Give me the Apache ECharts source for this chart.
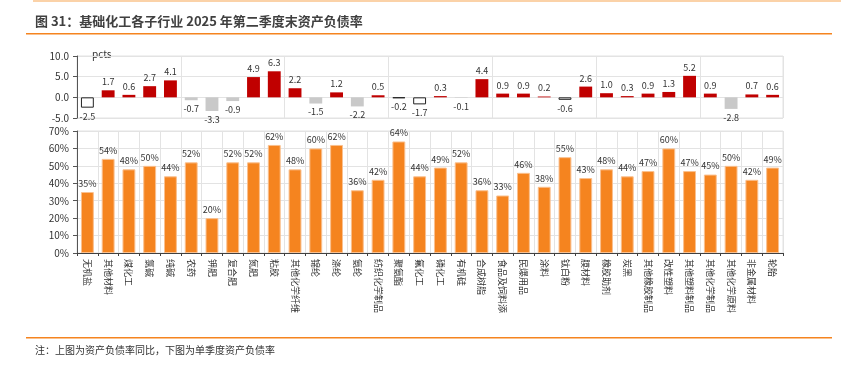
<!DOCTYPE html>
<html><head><meta charset="utf-8">
<script src="https://cdn.jsdelivr.net/npm/echarts@6/dist/echarts.min.js"></script>
<style>html,body{margin:0;padding:0;background:#fff}#c{width:841px;height:366px}</style>
</head><body><div id="c"></div>
<script>
var categories = ['无机盐','其他材料','煤化工','氯碱','纯碱','农药','钾肥','复合肥','氮肥','粘胶','其他化学纤维','锦纶','涤纶','氨纶','纺织化学制品','聚氨酯','氟化工','磷化工','有机硅','合成树脂','食品及饲料添','民爆用品','涂料','钛白粉','膜材料','橡胶助剂','炭黑','其他橡胶制品','改性塑料','其他塑料制品','其他化学制品','其他化学原料','非金属材料','轮胎'];
var yoyChange = [-2.5,1.7,0.6,2.7,4.1,-0.7,-3.3,-0.9,4.9,6.3,2.2,-1.5,1.2,-2.2,0.5,-0.2,-1.7,0.3,-0.1,4.4,0.9,0.9,0.2,-0.6,2.6,1.0,0.3,0.9,1.3,5.2,0.9,-2.8,0.7,0.6];
var debtRatio = [35,54,48,50,44,52,20,52,52,62,48,60,62,36,42,64,44,49,52,36,33,46,38,55,43,48,44,47,60,47,45,50,42,49];
var topTicks = [-5,0,5,10];
var bottomTicks = [0,10,20,30,40,50,60,70];
var outlinedCats = ['无机盐','聚氨酯','氟化工','钛白粉'];

var chart = echarts.init(document.getElementById('c'));
var FONT = '"Noto Sans CJK SC","Noto Sans",sans-serif';
var topData = yoyChange.map(function(v,i){
  var st;
  if (outlinedCats.indexOf(categories[i]) >= 0) st = {color:'#ffffff', borderColor:'#222', borderWidth:1};
  else if (v >= 0) st = {color:'#C00000'};
  else st = {color:'#C9C9C9'};
  return {value:v, itemStyle:st, label:{position: v>=0 ? 'top' : 'bottom'}};
});
var lineX = {show:true, lineStyle:{color:'#E3E3E3', width:1}};
chart.setOption({
  animation:false,
  textStyle:{fontFamily:FONT},
  grid:[
    {left:77, right:58, top:56, height:62, show:true, borderColor:'#E3E3E3', borderWidth:1},
    {left:77, right:58, top:131, height:122, show:true, borderColor:'#E3E3E3', borderWidth:1}
  ],
  xAxis:[
    {type:'category', gridIndex:0, data:categories, axisLabel:{show:false}, axisTick:{show:false},
     axisLine:{show:false}, splitLine:lineX},
    {type:'category', gridIndex:1, data:categories,
     axisLine:{show:true, lineStyle:{color:'#404040', width:1}},
     axisTick:{show:true, length:3, lineStyle:{color:'#404040'}},
     splitLine:lineX,
     axisLabel:{interval:0, rotate:-90, fontSize:9, color:'#333', margin:6, fontFamily:FONT}}
  ],
  yAxis:[
    {type:'value', gridIndex:0, min:topTicks[0], max:topTicks[topTicks.length-1], interval:5,
     axisLine:{show:true, lineStyle:{color:'#555'}}, axisTick:{show:true, length:4, lineStyle:{color:'#555'}},
     splitLine:{show:true, lineStyle:{color:'#E3E3E3'}},
     axisLabel:{fontSize:10, color:'#333', margin:8, formatter:function(v){return v.toFixed(1);}}},
    {type:'value', gridIndex:1, min:bottomTicks[0], max:bottomTicks[bottomTicks.length-1], interval:10,
     axisLine:{show:true, lineStyle:{color:'#555'}}, axisTick:{show:true, length:4, lineStyle:{color:'#555'}},
     splitLine:{show:true, lineStyle:{color:'#E3E3E3'}},
     axisLabel:{fontSize:10, color:'#333', margin:8, formatter:'{value}%'}}
  ],
  series:[
    {type:'bar', xAxisIndex:0, yAxisIndex:0, data:topData, barWidth:'62%',
     label:{show:true, fontSize:9, color:'#333', distance:4, formatter:function(p){return p.value.toFixed(1);}}},
    {type:'bar', xAxisIndex:1, yAxisIndex:1, data:debtRatio, barWidth:'62%',
     itemStyle:{color:'#F5841F', borderColor:'#FAC08F', borderWidth:1},
     label:{show:true, position:'top', fontSize:9, color:'#333', distance:4, formatter:'{c}%'}}
  ],
  graphic:[
    {type:'rect', shape:{x:33,y:0,width:808,height:2}, style:{fill:'#FBD2A8'}},
    {type:'text', left:35, top:15, style:{text:'图 31：基础化工各子行业 2025 年第二季度末资产负债率', fill:'#404040', font:'bold 13px '+FONT}},
    {type:'rect', shape:{x:26,y:33,width:806,height:1.5}, style:{fill:'#F5841F'}},
    {type:'text', left:92, top:49, style:{text:'pcts', fill:'#333', font:'10px '+FONT}},
    {type:'rect', shape:{x:26,y:337,width:806,height:1.5}, style:{fill:'#F5841F'}},
    {type:'text', left:35, top:345, style:{text:'注：上图为资产负债率同比，下图为单季度资产负债率', fill:'#333', font:'10px '+FONT}}
  ]
});
</script></body></html>
